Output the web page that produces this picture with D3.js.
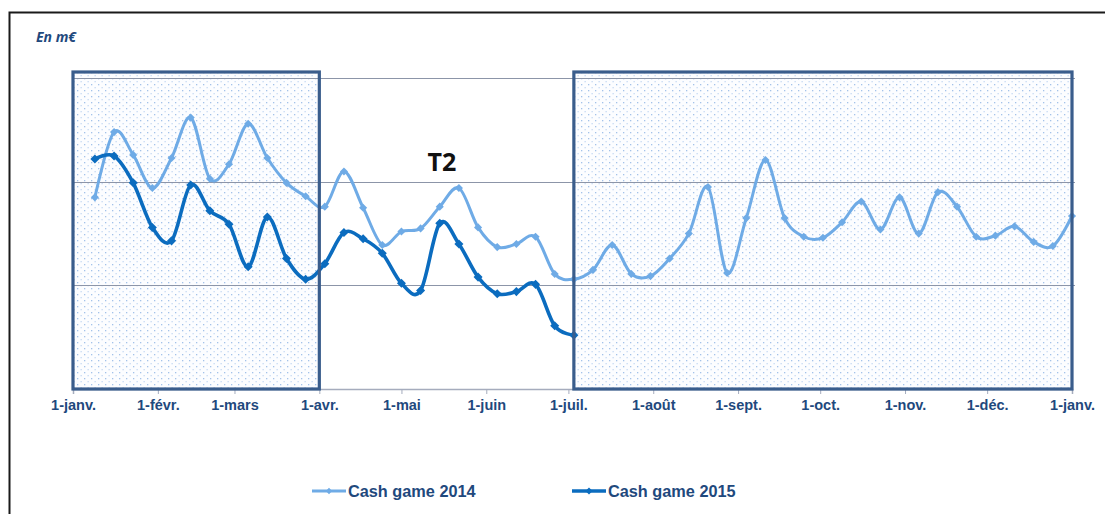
<!DOCTYPE html>
<html>
<head>
<meta charset="utf-8">
<script src="https://cdn.jsdelivr.net/npm/d3@7"></script>
<style>
  body { margin: 0; background: #fff; }
  svg { display: block; }
</style>
</head>
<body>
<div id="chart"></div>
<script>
// weekly points (same calendar positions for both years)
const weeks = ["2014-01-09","2014-01-16","2014-01-23","2014-01-30","2014-02-06","2014-02-13","2014-02-20","2014-02-27",
  "2014-03-06","2014-03-13","2014-03-20","2014-03-27","2014-04-03","2014-04-10","2014-04-17","2014-04-24",
  "2014-05-01","2014-05-08","2014-05-15","2014-05-22","2014-05-29","2014-06-05","2014-06-12","2014-06-19",
  "2014-06-26","2014-07-03","2014-07-10","2014-07-17","2014-07-24","2014-07-31","2014-08-07","2014-08-14",
  "2014-08-21","2014-08-28","2014-09-04","2014-09-11","2014-09-18","2014-09-25","2014-10-02","2014-10-09",
  "2014-10-16","2014-10-23","2014-10-30","2014-11-06","2014-11-13","2014-11-20","2014-11-27","2014-12-04",
  "2014-12-11","2014-12-18","2014-12-25","2015-01-01"]

const cash2014 = [185,248,226,194,223,262,203,217,256,223,199,186,176,210,175,139,
  152,155,176,194,156,137,140,147,111,106,115,139,111,109,126,150,
  195,112,165,221,165,147,146,161,181,154,185,150,190,176,147,148,
  157,142,138,167]

const cash2015 = [222,225,199,156,143,197,172,159,118,166,126,106,121,151,145,131,
  102,95,160,140,108,92,94,101,61,52]

const monthTicks = ["2014-01-01","2014-02-01","2014-03-01","2014-04-01","2014-05-01","2014-06-01","2014-07-01",
  "2014-08-01","2014-09-01","2014-10-01","2014-11-01","2014-12-01","2015-01-01"]
const monthLabels = ["1-janv.","1-févr.","1-mars","1-avr.","1-mai","1-juin","1-juil.","1-août","1-sept.",
  "1-oct.","1-nov.","1-déc.","1-janv."]

const gridValues = [100, 200, 300]

// shaded periods (hand-drawn boxes in the original)
const shaded = [["2014-01-01","2014-04-01"], ["2014-07-03","2015-01-01"]]

const W = 1105, H = 514
const parse = d3.utcParse("%Y-%m-%d")
const textBlue = "#1f497d"
const c2014 = "#6fabe6"
const c2015 = "#0b6cbf"

const svg = d3.select("#chart").append("svg")
    .attr("width", W)
    .attr("height", H)

// dotted pattern
const defs = svg.append("defs")
const pat = defs.append("pattern")
    .attr("id", "dots")
    .attr("patternUnits", "userSpaceOnUse")
    .attr("width", 7)
    .attr("height", 6)
pat.append("rect").attr("width", 7).attr("height", 6).attr("fill", "#fcfdff")
pat.append("rect").attr("x", 0).attr("y", 0).attr("width", 1.3).attr("height", 1.3).attr("fill", "#a3c2ea")
pat.append("rect").attr("x", 3.5).attr("y", 3).attr("width", 1.3).attr("height", 1.3).attr("fill", "#c6daf3")

// outer frame
svg.append("path")
    .attr("d", "M9.5,514 V12.5 H1105")
    .attr("fill", "none")
    .attr("stroke", "#1a1a1a")
    .attr("stroke-width", 2)

const x = d3.scaleUtc()
    .domain([parse("2014-01-01"), parse("2015-01-01")])
    .range([73, 1072])

const y = d3.scaleLinear()
    .domain([0, 306])
    .range([389, 72])

// shaded boxes fill
svg.append("g").selectAll("rect")
  .data(shaded)
  .join("rect")
    .attr("x", d => x(parse(d[0])))
    .attr("y", y(306))
    .attr("width", d => x(parse(d[1])) - x(parse(d[0])))
    .attr("height", y(0) - y(306))
    .attr("fill", "url(#dots)")

// gridlines
svg.append("g").selectAll("line")
  .data(gridValues)
  .join("line")
    .attr("x1", x.range()[0])
    .attr("x2", x.range()[1] + 3)
    .attr("y1", d => Math.round(y(d)) + 0.5)
    .attr("y2", d => Math.round(y(d)) + 0.5)
    .attr("stroke", "#8c95a8")
    .attr("stroke-width", 1.2)

// x axis
const xAxis = d3.axisBottom(x)
    .tickValues(monthTicks.map(parse))
    .tickFormat((d, i) => monthLabels[i])
    .tickSize(5)
    .tickPadding(6)

const gx = svg.append("g")
    .attr("transform", `translate(0,${y(0)})`)
    .call(xAxis)
gx.select(".domain").attr("stroke", "#a5acbd").attr("stroke-width", 1.5)
gx.selectAll(".tick line").attr("stroke", "#a5acbd")
gx.selectAll(".tick text")
    .attr("fill", textBlue)
    .attr("font-family", "'Liberation Sans', Arial, sans-serif")
    .attr("font-weight", "bold")
    .attr("font-size", 14.5)

// lines
const line = d3.line()
    .x((d, i) => x(parse(weeks[i])))
    .y(d => y(d))
    .curve(d3.curveCardinal)

const series = [
  {name: "Cash game 2014", values: cash2014, color: c2014, width: 3, size: 42},
  {name: "Cash game 2015", values: cash2015, color: c2015, width: 3.6, size: 52}
]

series.forEach(s => {
  svg.append("path")
      .datum(s.values)
      .attr("d", line)
      .attr("fill", "none")
      .attr("stroke", s.color)
      .attr("stroke-width", s.width)
  svg.append("g").selectAll("path")
    .data(s.values)
    .join("path")
      .attr("transform", (d, i) => `translate(${x(parse(weeks[i]))},${y(d)})`)
      .attr("d", d3.symbol().type(d3.symbolDiamond2).size(s.size))
      .attr("fill", s.color)
})

// box borders
svg.append("g").selectAll("rect")
  .data(shaded)
  .join("rect")
    .attr("x", d => x(parse(d[0])))
    .attr("y", y(306))
    .attr("width", d => x(parse(d[1])) - x(parse(d[0])))
    .attr("height", y(0) - y(306))
    .attr("fill", "none")
    .attr("stroke", "#3a5d8c")
    .attr("stroke-width", 3.2)

// annotations
svg.append("text")
    .attr("x", 36)
    .attr("y", 42)
    .attr("fill", textBlue)
    .attr("font-family", "'Open Sans', sans-serif")
    .attr("font-weight", "bold")
    .attr("font-style", "italic")
    .attr("font-size", 14)
    .text("En m€")

svg.append("text")
    .attr("x", 442)
    .attr("y", 171)
    .attr("text-anchor", "middle")
    .attr("fill", "#111")
    .attr("font-family", "'Open Sans', sans-serif")
    .attr("font-weight", "bold")
    .attr("font-size", 25)
    .text("T2")

// legend
const legend = svg.append("g")
    .selectAll("g")
    .data(series)
    .join("g")
    .attr("transform", (d, i) => `translate(${[312, 572][i]},491)`)

legend.append("line")
    .attr("x1", 0).attr("x2", 34)
    .attr("stroke", d => d.color)
    .attr("stroke-width", d => d.width)
legend.append("path")
    .attr("transform", "translate(17,0)")
    .attr("d", d => d3.symbol().type(d3.symbolDiamond2).size(d.size * 0.6)())
    .attr("fill", d => d.color)
legend.append("text")
    .attr("x", 36)
    .attr("dy", "0.36em")
    .attr("fill", textBlue)
    .attr("font-family", "'Liberation Sans', Arial, sans-serif")
    .attr("font-weight", "bold")
    .attr("font-size", 16.3)
    .text(d => d.name)
</script>
</body>
</html>
